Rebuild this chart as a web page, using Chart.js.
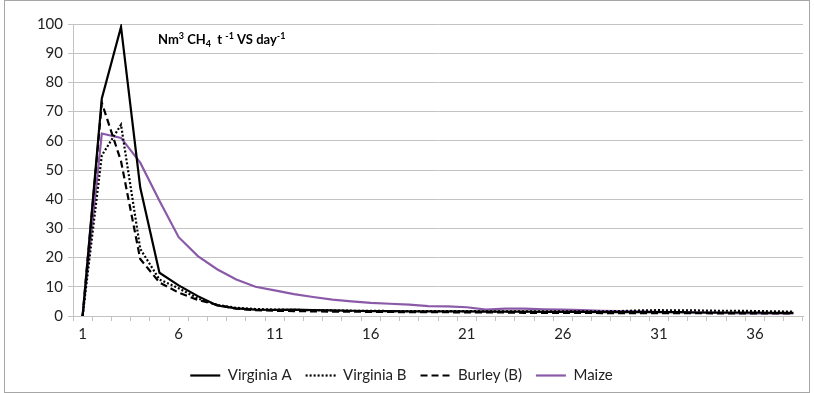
<!DOCTYPE html>
<html>
<head>
<meta charset="utf-8">
<script src="https://cdn.jsdelivr.net/npm/chart.js@4"></script>
<style>
  html, body { margin: 0; padding: 0; background: #fff; }
  #wrap { width: 814px; height: 393px; position: relative; }
</style>
</head>
<body>
<div id="wrap"><canvas id="chart"></canvas></div>
<script>
// Дни (1..38)
const days = ['1','2','3','4','5','6','7','8','9','10','11','12','13','14','15','16','17','18','19',
  '20','21','22','23','24','25','26','27','28','29','30','31','32','33','34','35','36','37','38'];

const virginiaA = [0, 74.5, 99, 44, 14.8, 10.5, 6.8, 3.6, 2.6, 2.2, 2.1, 2.2, 2.0, 1.9, 1.8, 1.7, 1.7, 1.6, 1.6,
  1.6, 1.6, 1.5, 1.5, 1.5, 1.4, 1.4, 1.4, 1.3, 1.3, 1.3, 1.3, 1.3, 1.2, 1.2, 1.2, 1.2, 1.1, 1.1];
const virginiaB = [0, 55, 65.5, 23, 12.5, 9.5, 6, 3.8, 2.8, 2.4, 2.2, 2.1, 2.0, 1.9, 1.8, 1.8, 1.7, 1.7, 1.7,
  1.7, 1.7, 1.6, 1.6, 1.6, 1.6, 1.6, 1.6, 1.6, 1.7, 1.9, 2.0, 1.9, 1.9, 1.8, 1.8, 1.7, 1.6, 1.5];
const burley = [0, 73, 53, 19.5, 11.5, 8, 5.5, 3.8, 2.5, 2.0, 1.8, 1.7, 1.6, 1.5, 1.5, 1.4, 1.4, 1.3, 1.3,
  1.3, 1.2, 1.2, 1.2, 1.1, 1.1, 1.1, 1.1, 1.0, 1.0, 1.0, 1.0, 1.0, 1.0, 0.9, 0.9, 0.9, 0.9, 0.9];
const maize = [0, 62.5, 61, 52.5, 39.5, 27, 20.5, 16, 12.5, 10, 8.8, 7.5, 6.5, 5.6, 5.0, 4.5, 4.2, 3.9, 3.4,
  3.3, 3.0, 2.2, 2.5, 2.5, 2.3, 2.2, 2.0, 1.8, 1.7, 1.6, 1.4, 1.3, 1.2, 1.1, 1.0, 0.9, 0.9, 0.9];

const FONT = 'Lato, "Open Sans", sans-serif';
const gridColor = '#c3c3c3';

// Подпись единиц внутри области графика
const unitLabel = {
  id: 'unitLabel',
  afterDraw(chart) {
    const c = chart.ctx;
    const a = chart.chartArea;
    const parts = [
      ['Nm', 0], ['3', -1], [' CH', 0], ['4', 1], ['  t ', 0], ['-1', -1], [' VS day', 0], ['-1', -1]
    ];
    let x = a.left + 85;
    const y = a.top + 20;
    c.save();
    c.fillStyle = '#000';
    c.textBaseline = 'alphabetic';
    parts.forEach(([t, s]) => {
      c.font = s === 0 ? 'bold 13px ' + FONT : 'bold 9px ' + FONT;
      const dy = s < 0 ? -5 : (s > 0 ? 3 : 0);
      c.fillText(t, x, y + dy);
      x += c.measureText(t).width;
    });
    c.restore();
  }
};

// Рамка диаграммы
const frame = {
  id: 'frame',
  afterDraw(chart) {
    const c = chart.ctx;
    c.save();
    c.strokeStyle = '#a6a6a6';
    c.lineWidth = 1;
    c.strokeRect(4.5, 0.5, 805, 392);
    c.restore();
  }
};

const ctx = document.getElementById('chart').getContext('2d');
new Chart(ctx, {
  type: 'line',
  data: {
    labels: days,
    datasets: [
      { label: 'Virginia A', data: virginiaA, borderColor: '#000', borderWidth: 2.2 },
      { label: 'Virginia B', data: virginiaB, borderColor: '#000', borderWidth: 2.2, borderDash: [2, 2] },
      { label: 'Burley (B)', data: burley, borderColor: '#000', borderWidth: 2.2, borderDash: [7, 4] },
      { label: 'Maize', data: maize, borderColor: '#8a5aa8', borderWidth: 2.2 }
    ]
  },
  options: {
    responsive: true,
    maintainAspectRatio: false,
    animation: false,
    elements: { point: { radius: 0 }, line: { tension: 0 } },
    layout: { padding: { top: 24, right: 11, left: 0, bottom: 0 } },
    scales: {
      x: {
        offset: true,
        grid: { offset: true, drawOnChartArea: false, tickLength: 5, color: gridColor },
        border: { color: gridColor },
        ticks: {
          autoSkip: false,
          maxRotation: 0,
          padding: 4,
          color: '#222',
          font: { family: FONT, size: 15 },
          callback: (v, i) => (i % 5 === 0 ? days[i] : '')
        },
        afterFit: s => { s.height = 38; }
      },
      y: {
        min: 0,
        max: 100,
        ticks: { stepSize: 10, padding: 5, color: '#222', font: { family: FONT, size: 15 } },
        grid: { color: gridColor, tickLength: 5 },
        border: { color: gridColor },
        afterFit: s => { s.width = 73; }
      }
    },
    plugins: {
      legend: {
        position: 'bottom',
        labels: {
          usePointStyle: true,
          pointStyle: 'line',
          pointStyleWidth: 30,
          padding: 14,
          color: '#222',
          font: { family: FONT, size: 15 },
          // линии легенды с тем же пунктиром, что и у серий
          generateLabels: chart => {
            const items = Chart.defaults.plugins.legend.labels.generateLabels(chart);
            items.forEach(it => {
              const ds = chart.data.datasets[it.datasetIndex];
              it.lineDash = ds.borderDash || [];
              it.lineWidth = 2.2;
              it.strokeStyle = ds.borderColor;
            });
            return items;
          }
        }
      },
      tooltip: { enabled: false }
    }
  },
  plugins: [unitLabel, frame]
});
</script>
</body>
</html>
